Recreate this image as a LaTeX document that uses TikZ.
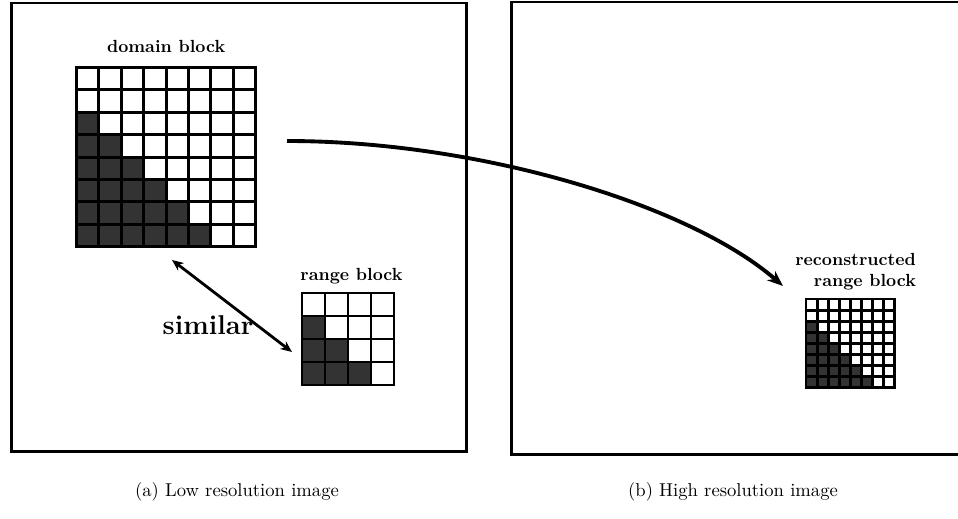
\documentclass[tikz,border=0pt]{standalone}
\usetikzlibrary{arrows.meta, positioning, fit}
\definecolor{my_dark}{RGB}{51, 51, 51}
\tikzset {
  frame/.style = {draw, line width=1.7pt, rectangle, inner sep=0pt, anchor=north west},
  gridline/.style = {line width=1.6pt, line cap=rect},
  blockfit/.style = {inner sep=0pt},
  label/.style = {font=\bfseries, inner sep=0pt, text depth=0pt},
  caption/.style = {font=\fontsize{10.6}{12.7}\selectfont, inner sep=0pt},
  line/.style = {-{Stealth[length=9pt, width=7pt]}, line width=2.2pt, color=black},
  twoway/.style = {{Stealth[length=6.5pt, width=5.5pt]}-{Stealth[length=6.5pt, width=5.5pt]}, line width=1.6pt, color=black}
}
% #1 origin, #2 cells per side, #3 cell size, #4 rows without dark cells, #5 name
\newcommand{\pixelblock}[5]{%
  \begin{scope}[shift={#1}]
    \foreach \r in {1,...,#2} {
      \pgfmathtruncatemacro\ndark{\r-#4}
      \ifnum\ndark>0
        \fill[my_dark] (0,{(\r-1)*#3}) rectangle ({\ndark*#3},{\r*#3});
      \fi
    }
    \foreach \i in {0,...,#2} {
      \draw[gridline] ({\i*#3},0) -- ({\i*#3},{#2*#3});
      \draw[gridline] (0,{\i*#3}) -- ({#2*#3},{\i*#3});
    }
    \coordinate (#5-nw) at (0,0);
    \coordinate (#5-se) at ({#2*#3},{#2*#3});
  \end{scope}}

\begin{document}
\begin{tikzpicture}[x=0.02cm, y=-0.02cm, node distance=0.8cm]
    \useasboundingbox (0,0) rectangle (958,518);

    % the two images
    \node[frame, minimum width=9.1cm, minimum height=8.97cm] (lowres) at (10,1.5) {};
    \node[frame, minimum width=9.02cm, minimum height=9.05cm] (highres) at (510,0.5) {};

    % blocks
    \pixelblock{(76.5,67.5)}{8}{22.4}{2}{dom}
    \node[blockfit, fit=(dom-nw)(dom-se)] (domain) {};
    \node[label, above=8pt of domain] (domainlabel) {domain block};

    \pixelblock{(302,293)}{4}{23}{1}{rng}
    \node[blockfit, fit=(rng-nw)(rng-se)] (range) {};
    \node[label, above=6.5pt of range, xshift=2pt] (rangelabel) {range block};

    \pixelblock{(806,299)}{8}{11.1}{2}{rec}
    \node[blockfit, fit=(rec-nw)(rec-se)] (recon) {};
    \node[label, align=right, above=6.5pt of recon, xshift=3pt] (reconlabel) {reconstructed\\range block};

    % arrows
    \coordinate (simA) at (172,260);
    \coordinate (simB) at (292,352);
    \draw[twoway] (simA) -- (simB);
    \node[font=\fontsize{15.5}{18}\selectfont\bfseries, inner sep=0pt] (similar) at (208,325) {similar};

    \coordinate (mapA) at (287,141);
    \coordinate (mapB) at (783,286);
    \draw[line] (mapA) .. controls (480,141) and (690,205) .. (mapB);

    % captions
    \node[caption] (capa) at (237,492) {(a) Low resolution image};
    \node[caption] (capb) at (733,492) {(b) High resolution image};
\end{tikzpicture}
\end{document}
